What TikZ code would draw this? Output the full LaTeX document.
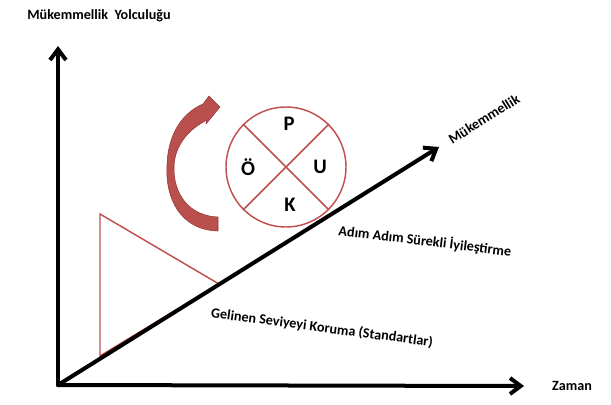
\documentclass[tikz,border=0pt]{standalone}
\usepackage{fontspec}
\setmainfont{Carlito}
\usetikzlibrary{arrows.meta}
\definecolor{pdred}{HTML}{C0504D}
\definecolor{pddark}{HTML}{943634}
\definecolor{pdfill}{HTML}{B9504E}
\begin{document}
\begin{tikzpicture}[x=0.75pt,y=-0.75pt,
  axis/.style={line width=3pt,line cap=round,-{Straight Barb[length=8pt,width=12pt]}},
  redline/.style={draw=pdred,line width=1.1pt},
  lbl/.style={font=\bfseries\fontsize{10.6}{12}\selectfont,inner sep=0pt},
  letter/.style={font=\bfseries\fontsize{15.5}{18}\selectfont,inner sep=0pt}]
\useasboundingbox (0,0) rectangle (611,404);
% axes
\coordinate (O) at (58,385);
\coordinate (Ytop) at (58,46);
\coordinate (Xend) at (524,386);
\coordinate (Dend) at (439,147);
\draw[axis] (O) -- (Ytop);
\draw[axis] (O) -- (Xend);
% triangle
\coordinate (T1) at (100,214);
\coordinate (T2) at (100,356);
\coordinate (T3) at (219,284);
\draw[redline,line join=miter] (T1) -- (T2) -- (T3) -- cycle;
\draw[axis] (O) -- (Dend);
% PDCA circle
\node[circle,redline,minimum size=90pt,inner sep=0pt] (pdca) at (286,167) {};
\draw[redline] (pdca.135) -- (pdca.-45);
\draw[redline] (pdca.45) -- (pdca.-135);
\node[letter] (P) at (289,124) {P};
\node[letter] (Oe) at (248,167) {Ö};
\node[letter] (U) at (320,167) {U};
\node[letter] (K) at (290,205) {K};
% curved arrow
\path[fill=pdfill,draw=pddark,line width=0.4pt,line join=round]
  (218,231) .. controls (180,230) and (165,198) .. (167,165)
  .. controls (168,132) and (184,112) .. (203,104)
  -- (209,96) -- (220,107) -- (206,124) -- (207,120)
  .. controls (189,129) and (175,145) .. (174,166)
  .. controls (173,195) and (190,216) .. (218,217) -- cycle;
% labels
\node[lbl] (title) at (99,16) {Mükemmellik\ \ Yolculuğu};
\node[lbl,rotate=32] (muk) at (484,119) {Mükemmellik};
\node[lbl,rotate=-7] (adim) at (425,241) {Adım Adım Sürekli İyileştirme};
\node[lbl,rotate=-7.5] (gel) at (322,328) {Gelinen Seviyeyi Koruma (Standartlar)};
\node[lbl] (zaman) at (572,386) {Zaman};
\end{tikzpicture}
\end{document}
